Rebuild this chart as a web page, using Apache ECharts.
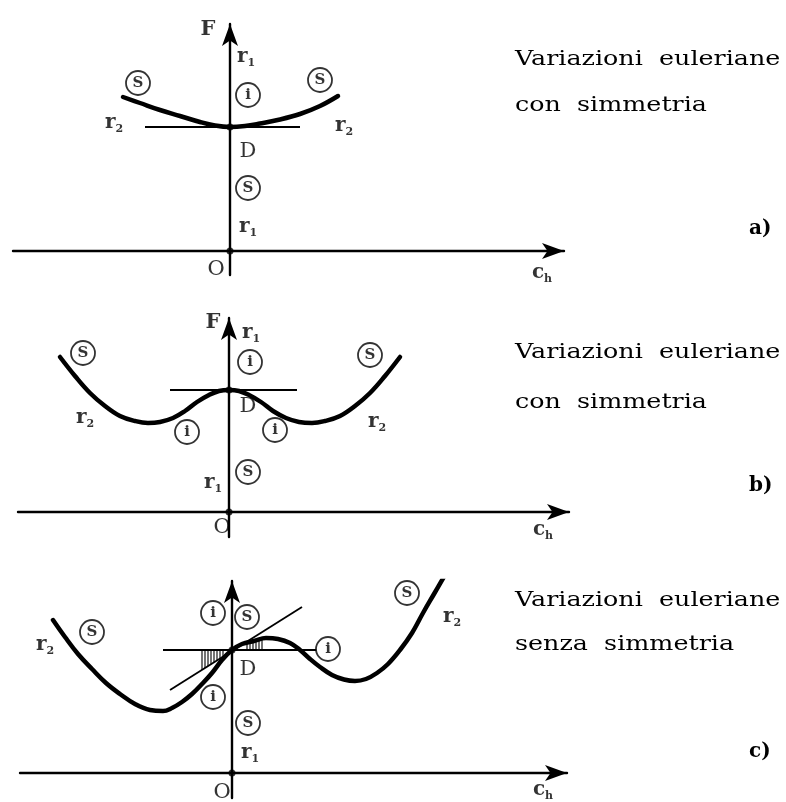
<!DOCTYPE html>
<html>
<head>
<meta charset="utf-8">
<script src="https://cdn.jsdelivr.net/npm/echarts@6/dist/echarts.min.js"></script>
<style>
  html, body { margin: 0; padding: 0; background: #fff; }
  #chart { width: 786px; height: 802px; }
</style>
</head>
<body>
<div id="chart"></div>
<script>
// ---------- data (axis units: F vertical, c_h horizontal) ----------

// a) single minimum at D, symmetric
const aCurveX = [-10.7, -9.0, -7.0, -5.0, -3.0, -1.5, 0, 1.5, 3.0, 5.0, 7.0, 9.0, 10.8];
const aCurveY = [15.4, 14.8, 14.1, 13.5, 12.9, 12.55, 12.4, 12.5, 12.75, 13.15, 13.7, 14.5, 15.5];
const aLevel = 12.4;
const aFlatX = [-8.5, 7.0];

// b) maximum at D between two symmetric minima
const bCurveX = [-16.9, -15.4, -13.9, -12.4, -10.9, -9.4, -8.1, -6.9, -5.6, -4.4, -3.2, -2.0, -1.0, 0,
                 1.0, 2.0, 3.2, 4.4, 5.7, 7.0, 8.3, 9.6, 11.1, 12.6, 14.1, 15.6, 17.1];
const bCurveY = [15.5, 13.6, 11.9, 10.6, 9.6, 9.1, 8.9, 9.0, 9.4, 10.1, 11.0, 11.7, 12.1, 12.2,
                 12.1, 11.7, 11.0, 10.1, 9.4, 9.0, 8.9, 9.1, 9.6, 10.6, 11.9, 13.6, 15.5];
const bLevel = 12.2;
const bFlatX = [-5.9, 6.8];

// c) no symmetry: inclined tangent at D
const cCurveX = [-17.9, -16.7, -15.4, -14.0, -12.6, -11.2, -9.7, -8.2, -6.9, -6.0, -5.0, -4.0, -3.0, -2.0, -1.0, 0,
                 1.0, 2.2, 3.4, 4.6, 5.8, 6.8, 7.8, 8.8, 10.0, 11.2, 12.3, 13.4, 14.5, 15.6, 16.8, 18.0, 19.1, 20.2, 21.3];
const cCurveY = [15.3, 13.6, 11.9, 10.4, 9.0, 7.9, 6.9, 6.3, 6.2, 6.5, 7.1, 7.9, 8.9, 10.0, 11.3, 12.3,
                 12.9, 13.2, 13.5, 13.4, 13.0, 12.3, 11.4, 10.6, 9.8, 9.35, 9.2, 9.4, 10.0, 10.9, 12.3, 14.0, 16.0, 17.9, 19.8];
const cLevel = 12.3;
const cFlatX = [-6.9, 8.5];
const cTangentX = [-6.2, 7.0];
const cTangentY = [8.3, 16.6];
const cHatchLeftX = [-3.0, -2.7, -2.4, -2.1, -1.8, -1.5, -1.2, -0.9];
const cHatchRightX = [1.5, 1.8, 2.1, 2.4, 2.7, 3.0];

// captions
const captionTop = 'Variazioni  euleriane';
const captionBottom = ['con  simmetria', 'con  simmetria', 'senza  simmetria'];
const panelTags = ['a)', 'b)', 'c)'];

// ---------- layout ----------
const FONT = '"DejaVu Serif", "Liberation Serif", serif';
const PX = 10;        // pixels per axis unit
const ARROW = 22;     // arrowhead length

const frames = [
  { ox: 230, oy: 251, left: 13, tip: 575, top: 13,  bottom: 275, base1: 66,  base2: 112, tagY: 231 },
  { ox: 229, oy: 512, left: 18, tip: 580, top: 307, bottom: 537, base1: 359, base2: 409, tagY: 488 },
  { ox: 232, oy: 773, left: 20, tip: 578, top: 570, bottom: 798, base1: 607, base2: 651, tagY: 754 }
];

// label placements in axis units
const textMarks = [
  [['F', -2.2, 22.1], ['r1', 1.6, 19.4], ['r2', -11.6, 12.8], ['r2', 11.4, 12.5], ['D', 1.8, 9.9], ['r1', 1.8, 2.4], ['O', -1.4, -1.9], ['ch', 31.2, -2.2]],
  [['F', -1.6, 18.9], ['r1', 2.2, 17.9], ['r2', -14.4, 9.4], ['r2', 14.8, 9.0], ['D', 1.9, 10.5], ['r1', -1.6, 2.9], ['O', -0.7, -1.6], ['ch', 31.4, -1.8]],
  [['F', -2.0, 19.6], ['r1', 2.2, 19.5], ['r2', -18.7, 12.8], ['r2', 22.0, 15.6], ['D', 1.6, 10.3], ['r1', 1.8, 2.0], ['O', -1.0, -2.0], ['ch', 31.1, -1.7]]
];
const circleMarks = [
  [['S', -9.2, 16.8], ['i', 1.8, 15.6], ['S', 9.0, 17.1], ['S', 1.8, 6.3]],
  [['S', -14.6, 15.9], ['i', 2.1, 15.0], ['S', 14.1, 15.7], ['i', -4.2, 8.0], ['i', 4.6, 8.2], ['S', 1.9, 4.0]],
  [['i', -1.9, 16.0], ['S', 1.5, 15.6], ['S', -14.0, 14.1], ['S', 17.5, 18.0], ['i', 9.6, 12.4], ['i', -1.9, 7.6], ['S', 1.6, 5.0]]
];

const curves = [[aCurveX, aCurveY], [bCurveX, bCurveY], [cCurveX, cCurveY]];
const levels = [aLevel, bLevel, cLevel];
const flats = [aFlatX, bFlatX, cFlatX];

const zip = (xs, ys) => xs.map((x, i) => [x, ys[i]]);

function lerp(xs, ys, x) {
  for (let i = 0; i < xs.length - 1; i++) {
    if (x >= xs[i] && x <= xs[i + 1]) {
      const t = (x - xs[i]) / (xs[i + 1] - xs[i]);
      return ys[i] + t * (ys[i + 1] - ys[i]);
    }
  }
  return ys[ys.length - 1];
}

const rich = {
  m: { fontFamily: FONT, fontWeight: 'bold', fontSize: 20, color: '#000', lineHeight: 24 },
  s: { fontFamily: FONT, fontWeight: 'bold', fontSize: 11, color: '#000', lineHeight: 24, verticalAlign: 'bottom' },
  n: { fontFamily: FONT, fontSize: 21, color: '#000', lineHeight: 24 },
  f: { fontFamily: FONT, fontWeight: 'bold', fontSize: 21, color: '#000', lineHeight: 24 }
};
const textFormat = {
  F: '{f|F}', r1: '{m|r}{s|1}', r2: '{m|r}{s|2}', D: '{n|D}', O: '{n|O}', ch: '{m|c}{s|h}'
};

const grid = [], xAxis = [], yAxis = [], series = [], graphic = [];
const axisLineStyle = { color: '#000', width: 2.4 };
const captionFont = '20px ' + FONT;
const captionStretch = 1.27;

frames.forEach((f, i) => {
  const gTop = f.top + ARROW / 2;
  const gRight = f.tip - ARROW / 2;
  grid.push({ left: f.left, top: gTop, width: gRight - f.left, height: f.bottom - gTop, outerBoundsMode: 'none' });
  xAxis.push({
    gridIndex: i, type: 'value', min: (f.left - f.ox) / PX, max: (gRight - f.ox) / PX,
    axisLine: { show: true, onZero: true, symbol: ['none', 'arrow'], symbolSize: [12, ARROW], lineStyle: axisLineStyle },
    axisTick: { show: false }, axisLabel: { show: false }, splitLine: { show: false }
  });
  yAxis.push({
    gridIndex: i, type: 'value', min: (f.oy - f.bottom) / PX, max: (f.oy - gTop) / PX,
    axisLine: { show: true, onZero: true, symbol: ['none', 'arrow'], symbolSize: [12, ARROW], lineStyle: axisLineStyle },
    axisTick: { show: false }, axisLabel: { show: false }, splitLine: { show: false }
  });

  const ax = { xAxisIndex: i, yAxisIndex: i };

  // horizontal line through D
  series.push(Object.assign({
    type: 'line', data: [[flats[i][0], levels[i]], [flats[i][1], levels[i]]],
    showSymbol: false, silent: true, lineStyle: { color: '#000', width: 1.8 }, z: 3
  }, ax));

  // F(c_h) curve
  series.push(Object.assign({
    type: 'line', data: zip(curves[i][0], curves[i][1]), smooth: 0.4,
    showSymbol: false, silent: true, lineStyle: { color: '#000', width: 4.5, cap: 'round', join: 'round' }, z: 4
  }, ax));

  // points O and D
  series.push(Object.assign({
    type: 'scatter', data: [[0, 0], [0, levels[i]]], symbolSize: 7,
    itemStyle: { color: '#000' }, silent: true, z: 5
  }, ax));

  // plain labels
  series.push(Object.assign({
    type: 'scatter', symbolSize: 1, itemStyle: { color: 'rgba(0,0,0,0)' }, silent: true, z: 6,
    data: textMarks[i].map(m => ({ value: [m[1], m[2]], kind: m[0] })),
    label: { show: true, position: 'inside', formatter: p => textFormat[p.data.kind], rich: rich }
  }, ax));

  // circled labels
  series.push(Object.assign({
    type: 'scatter', symbol: 'circle', symbolSize: 24, silent: true, z: 7,
    itemStyle: { color: '#fff', borderColor: '#000', borderWidth: 1.8 },
    data: circleMarks[i].map(m => ({ value: [m[1], m[2]], kind: m[0] })),
    label: { show: true, position: 'inside', formatter: p => p.data.kind,
             fontFamily: FONT, fontWeight: 'bold', fontSize: 15, color: '#000', padding: [0, 0, 1, 0] }
  }, ax));

  // captions
  graphic.push({ type: 'text', x: 515, y: f.base1 - 16, scaleX: captionStretch,
                 style: { text: captionTop, font: captionFont, fill: '#000', verticalAlign: 'top' } });
  graphic.push({ type: 'text', x: 515, y: f.base2 - 16, scaleX: captionStretch,
                 style: { text: captionBottom[i], font: captionFont, fill: '#000', verticalAlign: 'top' } });
  graphic.push({ type: 'text', x: 749, y: f.tagY - 12,
                 style: { text: panelTags[i], font: 'bold 20px ' + FONT, fill: '#000', verticalAlign: 'top' } });
});

// c) tangent line at D and hatched regions
series.push({
  type: 'line', xAxisIndex: 2, yAxisIndex: 2, data: zip(cTangentX, cTangentY),
  showSymbol: false, silent: true, lineStyle: { color: '#000', width: 1.8 }, z: 3
});
const hatchData = cHatchLeftX.map(x => [x, lerp(cTangentX, cTangentY, x), cLevel])
  .concat(cHatchRightX.map(x => [x, cLevel, lerp(cCurveX, cCurveY, x)]));
series.push({
  type: 'custom', xAxisIndex: 2, yAxisIndex: 2, data: hatchData, silent: true, z: 2,
  renderItem: (params, api) => {
    const p0 = api.coord([api.value(0), api.value(1)]);
    const p1 = api.coord([api.value(0), api.value(2)]);
    return { type: 'line', shape: { x1: p0[0], y1: p0[1], x2: p1[0], y2: p1[1] },
             style: { stroke: '#000', lineWidth: 1.1 } };
  }
});

const chart = echarts.init(document.getElementById('chart'), null, { renderer: 'canvas' });
chart.setOption({
  animation: false,
  backgroundColor: '#fff',
  grid, xAxis, yAxis, series, graphic
});
</script>
</body>
</html>
